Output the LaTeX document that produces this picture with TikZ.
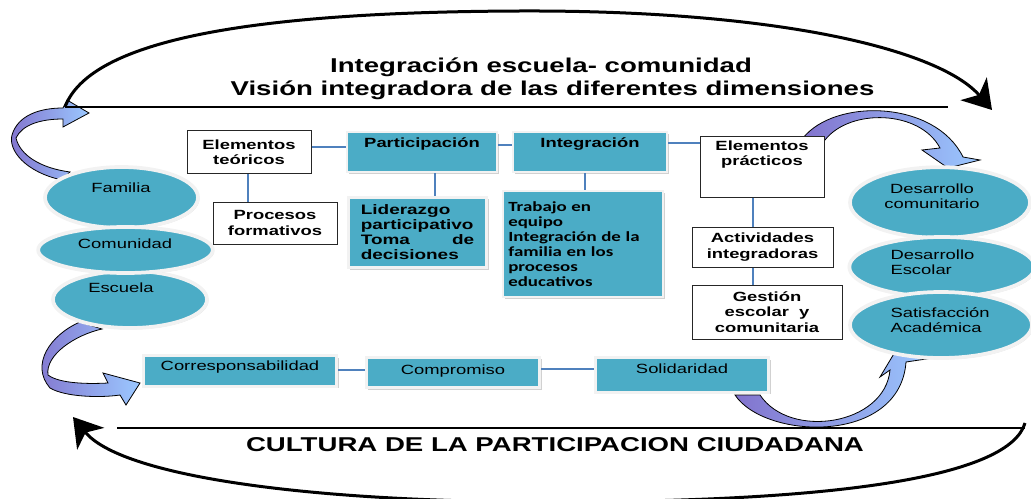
\documentclass[tikz,border=0pt]{standalone}
\usepackage{fontspec}
\setmainfont{Liberation Sans}[FakeStretch=1.38]
\newfontfamily\calibrifont{Carlito}[FakeStretch=1.35]
\usetikzlibrary{arrows.meta,shapes.geometric,shadows}

\definecolor{tealfill}{RGB}{75,172,198}
\definecolor{linkblue}{RGB}{79,129,189}
\definecolor{ribgray}{RGB}{130,115,205}
\definecolor{ribviolet}{RGB}{150,95,245}
\definecolor{ribblue}{RGB}{155,200,255}

\tikzset{every picture/.style={line width=0.75pt}}
\tikzset{
whitebox/.style={draw=black!85, fill=white, line width=0.75pt, font=\fontsize{10}{11.5}\selectfont\bfseries, align=center, inner sep=2pt},
tealbox/.style={fill=tealfill, draw=white!90!gray, line width=2.2pt, inner sep=2pt, drop shadow={shadow xshift=1.5pt, shadow yshift=-1.5pt, fill=gray!60, opacity=0.6}},
boldtext/.style={font=\fontsize{10}{11.25}\selectfont\bfseries},
plaintext/.style={font=\fontsize{10}{11.5}\selectfont},
bubble/.style={ellipse, fill=tealfill, draw=white!90!gray, line width=2.8pt, inner sep=0pt, drop shadow={shadow xshift=1pt, shadow yshift=-1pt, fill=gray!60, opacity=0.5}},
bubbletext/.style={font=\fontsize{10}{11}\selectfont, align=left, inner sep=0pt},
titletext/.style={font=\fontsize{15}{18}\selectfont\bfseries, inner sep=0pt},
conn/.style={draw=linkblue, line width=1.5pt},
ribbon/.style={draw=black, line width=0.6pt, left color=ribgray, middle color=ribviolet, right color=ribblue},
bigarc/.style={line width=2.25pt, -{Stealth[length=21pt, width=26pt, inset=6pt]}},
}

\begin{document}
\begin{tikzpicture}[x=0.75pt,y=0.75pt,yscale=-1,xscale=1]
\useasboundingbox (0,0) rectangle (1031,499);

% curved ribbon arrows
\draw[ribbon] (62,180) .. controls (25,172) and (8,150) .. (12,135) .. controls (18,115) and (40,108) .. (63,108) -- (67,100) -- (89,113) -- (63,127) -- (63,119) .. controls (40,119) and (22,125) .. (16,138) .. controls (20,155) and (40,168) .. (70,172) -- cycle;
\draw[ribbon] (803,138) .. controls (835,98) and (935,100) .. (963,157) -- (980,160) -- (948,168) -- (922,150) -- (940,148) .. controls (920,110) and (850,108) .. (825,140) -- cycle;
\draw[ribbon] (80,322) .. controls (50,335) and (30,365) .. (50,388) .. controls (65,397) and (100,398) .. (120,395) -- (126,405) -- (140,383) -- (103,373) -- (108,383) .. controls (90,384) and (60,384) .. (48,375) .. controls (45,355) and (75,335) .. (102,329) -- cycle;
\draw[ribbon] (735,395) .. controls (765,440) and (900,445) .. (906,362) -- (933,358) -- (895,352) -- (880,377) -- (890,370) .. controls (885,425) and (790,440) .. (760,395) -- cycle;

% big arcs and rules
\draw[line width=1.5pt] (65,107) -- (948,107);
\draw[line width=1.5pt] (117,428) -- (1025,428);
\draw[bigarc] (65,107) .. controls (90,40) and (250,12) .. (520,11) .. controls (780,10) and (940,50) .. (992,110);
\draw[bigarc] (1025,423) .. controls (1010,475) and (850,502) .. (550,502) .. controls (300,502) and (120,475) .. (73,417);

% titles
\node[titletext] (titlea) at (541,67) {Integración escuela- comunidad};
\node[titletext] (titleb) at (552.5,90) {Visión integradora de las diferentes dimensiones};
\node[titletext] (cultura) at (555,445) {CULTURA DE LA PARTICIPACION CIUDADANA};

% left bubbles
\node[bubble, minimum width=114.75pt, minimum height=45.75pt] (fam) at (121.5,197.5) {};
\node[bubble, minimum width=115.5pt, minimum height=42.75pt] (esc) at (130,299.5) {};
\node[bubble, minimum width=131pt, minimum height=34.5pt] (com) at (125.5,250) {};
\node[bubbletext] (famtxt) at (121,188) {Familia};
\node[bubbletext] (comtxt) at (125,244) {Comunidad};
\node[bubbletext] (esctxt) at (121,288) {Escuela};

% right bubbles
\node[bubble, minimum width=135pt, minimum height=53pt] (dcom) at (940,202.5) {};
\node[bubble, minimum width=139pt, minimum height=45pt] (desc) at (942,267) {};
\node[bubble, minimum width=136.5pt, minimum height=49.5pt] (satis) at (941,325) {};
\node[bubbletext, align=center] (dcomtxt) at (932,196) {Desarrollo\\comunitario};
\node[bubbletext, anchor=west] (desctxt) at (890,262) {Desarrollo\\Escolar};
\node[bubbletext, anchor=west] (satistxt) at (890,320) {Satisfacción\\Académica};

% boxes
\node[whitebox, minimum width=93pt, minimum height=32.25pt] (elteo) at (249,152.5) {Elementos\\teóricos};
\node[whitebox, minimum width=93pt, minimum height=31.5pt] (procf) at (275,223) {Procesos\\formativos};
\node[tealbox, boldtext, minimum width=112.5pt, minimum height=30pt, text height=8pt, text depth=14.3pt] (partic) at (422,152) {Participación};
\node[tealbox, boldtext, minimum width=115.5pt, minimum height=30pt, text height=8pt, text depth=14.3pt] (integ) at (590,152) {Integración};
\node[whitebox, minimum width=93pt, minimum height=45pt] (elprac) at (762,167) {\parbox[c][39pt][t]{85pt}{\centering Elementos\\prácticos}};
\node[tealbox, font=\fontsize{10.3}{11.25}\selectfont\bfseries, minimum width=104pt, minimum height=53pt, align=left, text width=85pt] (lider) at (417.5,232.5) {Liderazgo\\participativo\\Toma\hfill de\\decisiones};
\node[tealbox, font=\calibrifont\fontsize{10.5}{11.25}\selectfont\bfseries, minimum width=120pt, minimum height=79.5pt, align=left, text width=112pt] (trab) at (583,244) {Trabajo en\\equipo\\Integración de la\\familia en los\\procesos\\educativos};
\node[whitebox, minimum width=105.75pt, minimum height=30pt] (activ) at (762.5,247) {Actividades\\integradoras};
\node[whitebox, minimum width=112.5pt, minimum height=40.5pt] (gest) at (767,312) {Gestión\\escolar\ \ y\\comunitaria};
\node[tealbox, plaintext, minimum width=145pt, minimum height=23pt, text height=7.5pt, text depth=7.8pt] (corr) at (240,371) {Corresponsabilidad};
\node[tealbox, plaintext, minimum width=130pt, minimum height=23pt, text height=8pt, text depth=4.6pt] (comp) at (453,372.5) {Compromiso};
\node[tealbox, plaintext, minimum width=130pt, minimum height=26pt, text height=8pt, text depth=9.8pt] (solid) at (682,375) {Solidaridad};

% connectors
\draw[conn] (elteo.east |- 0,147) -- (partic.west |- 0,147);
\draw[conn] (partic.east |- 0,145) -- (integ.west |- 0,145);
\draw[conn] (integ.east |- 0,143) -- (elprac.west |- 0,143);
\draw[conn] (elteo.south -| 248,0) -- (procf.north -| 248,0);
\draw[conn] (partic.south -| 435,0) -- (lider.north -| 435,0);
\draw[conn] (integ.south -| 585,0) -- (trab.north -| 585,0);
\draw[conn] (elprac.south -| 753,0) -- (activ.north -| 753,0);
\draw[conn] (activ.south -| 753,0) -- (gest.north -| 753,0);
\draw[conn] (corr.east |- 0,370) -- (comp.west |- 0,370);
\draw[conn] (comp.east |- 0,369) -- (solid.west |- 0,369);

\end{tikzpicture}
\end{document}
